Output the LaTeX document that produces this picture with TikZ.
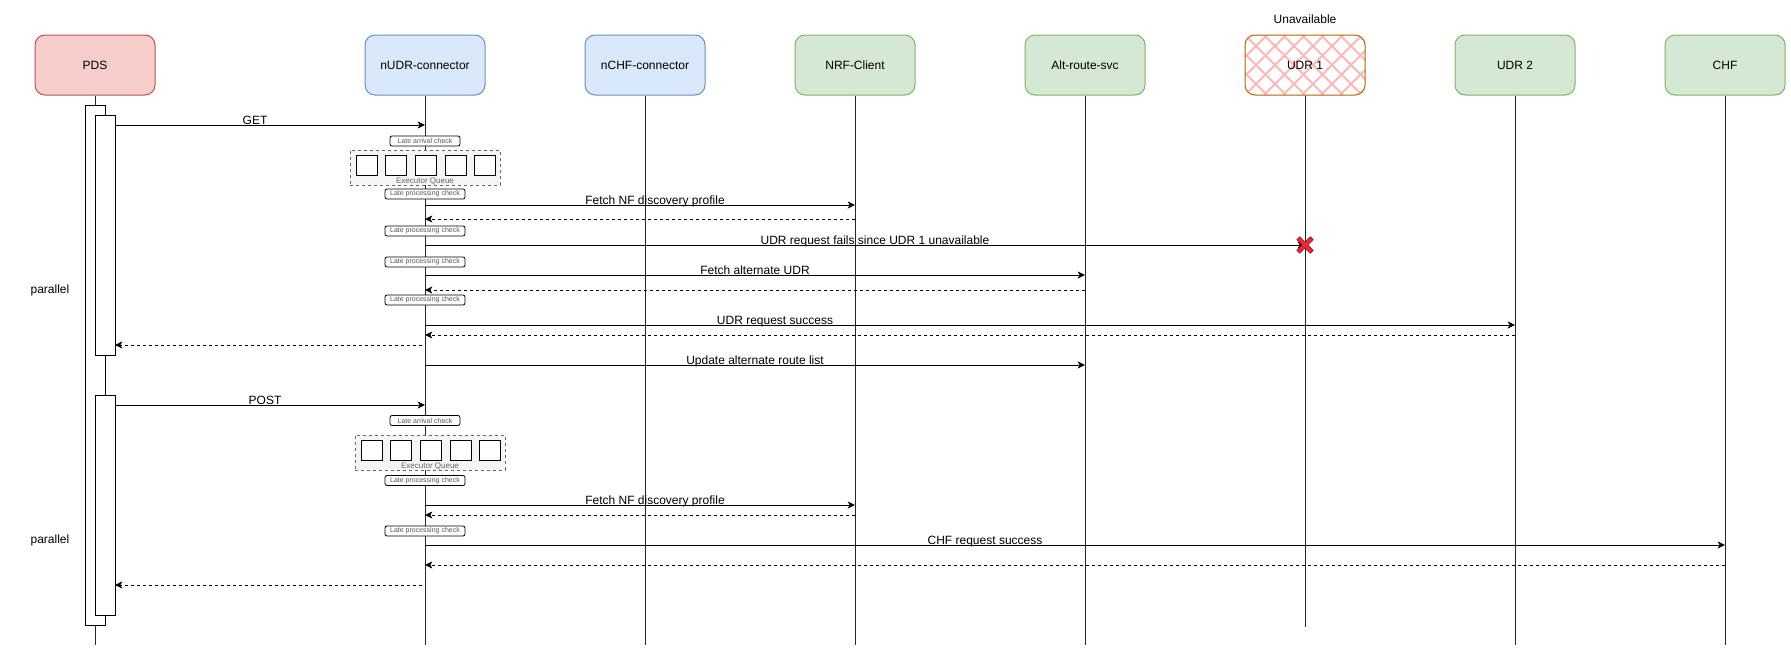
\documentclass[tikz,border=0pt]{standalone}
\usepackage{fontspec}
\setmainfont{Liberation Sans}
\usetikzlibrary{arrows.meta,positioning}

\definecolor{pdsfill}{HTML}{F8CECC}
\definecolor{pdsline}{HTML}{B85450}
\definecolor{bluefill}{HTML}{DAE8FC}
\definecolor{blueline}{HTML}{6C8EBF}
\definecolor{greenfill}{HTML}{D5E8D4}
\definecolor{greenline}{HTML}{82B366}
\definecolor{udrline}{HTML}{B46504}
\definecolor{hatchpink}{HTML}{FFB8B8}
\definecolor{queuefill}{HTML}{F5F5F5}
\definecolor{queueline}{HTML}{666666}
\definecolor{chktext}{HTML}{555555}
\definecolor{failred}{HTML}{E8283C}
\definecolor{faildark}{HTML}{A80F22}

\begin{document}
\begin{tikzpicture}
  [x=0.75pt,y=-0.75pt,every node/.style={font=\fontsize{9pt}{11pt}\selectfont}]

  \tikzset{
  head/.style = {rectangle,rounded corners=7.5pt,minimum width=90pt,minimum height=45pt,line width=0.75pt},
  life/.style = {line width=0.75pt,black!85},
  bar/.style = {rectangle,draw,fill=white,line width=0.75pt,minimum width=15pt,inner sep=0pt,outer sep=0pt},
  msg/.style = {line width=0.75pt,-{Stealth[length=5.5pt,width=5.25pt,inset=1.5pt]}},
  ret/.style = {msg,dash pattern=on 2.25pt off 2.25pt},
  msgl/.style = {anchor=base,inner sep=0pt},
  chk/.style = {rectangle,draw,fill=white,rounded corners=1.5pt,line width=0.6pt,minimum height=7.5pt,inner sep=0pt,text=chktext,font=\fontsize{5.25pt}{6pt}\selectfont},
  queue/.style = {rectangle,draw=queueline,fill=queuefill,dash pattern=on 2.25pt off 2.25pt,line width=0.6pt,minimum width=112.5pt,minimum height=26.25pt},
  queuel/.style = {anchor=base,inner sep=0pt,text=queueline,font=\fontsize{6pt}{7pt}\selectfont},
  slot/.style = {rectangle,draw,fill=white,line width=0.75pt,minimum width=15.75pt,minimum height=15pt,inner sep=0pt},
  hatchline/.style = {hatchpink,line width=1.5pt},
  failx/.style = {line width=3.6pt,faildark},
  failin/.style = {line width=2.6pt,failred}
  }

  \useasboundingbox (0,0) rectangle (1791,653);

  % lifeline heads
  \node[head,fill=pdsfill,draw=pdsline] (pds) at (95,65) {PDS};
  \node[head,fill=bluefill,draw=blueline] (nudr) at (425,65) {nUDR-connector};
  \node[head,fill=bluefill,draw=blueline] (nchf) at (645,65) {nCHF-connector};
  \node[head,fill=greenfill,draw=greenline] (nrf) at (855,65) {NRF-Client};
  \node[head,fill=greenfill,draw=greenline] (alt) at (1085,65) {Alt-route-svc};
  \node[head,fill=white,draw=udrline,path picture={
      \foreach \k in {-4,...,7}{
        \draw[hatchline] ([xshift=\k*14.25pt]path picture bounding box.south west) -- ++(60,-60);
        \draw[hatchline] ([xshift=\k*14.25pt]path picture bounding box.north west) -- ++(60,60);
      }}] (udra) at (1305,65) {UDR 1};
  \node[head,fill=greenfill,draw=greenline] (udrb) at (1515,65) {UDR 2};
  \node[head,fill=greenfill,draw=greenline] (chf) at (1725,65) {CHF};
  \node[above=5pt of udra] (unav) {Unavailable};

  % lifelines
  \foreach \n in {pds,nudr,nchf,nrf,alt,udrb,chf}
    \draw[life] (\n.south) -- (\n.south |- 0,645);
  \draw[life] (udra.south) -- (udra.south |- 0,627);

  % activations on PDS
  \node[bar,minimum height=390pt] (act) at (95,365) {};
  \node[bar,minimum height=180pt] (bar1) at (105,235) {};
  \node[bar,minimum height=165pt] (bar2) at (105,505) {};

  \node (par1) at (50,290) {parallel};
  \node (par2) at (50,540) {parallel};

  % checks and executor queues on nUDR-connector
  \node[chk,minimum width=52.5pt] (lac1) at (425,141) {Late arrival check};
  \node[chk,minimum width=52.5pt] (lac2) at (425,420.5) {Late arrival check};
  \foreach \n/\y in {1/194,2/231,3/262,4/300,5/480.5,6/531}
    \node[chk,minimum width=60pt] (lpc\n) at (425,\y) {Late processing check};

  \foreach \g/\x/\y in {1/425/167.5,2/430/452.5}{
    \node[queue] (exq\g) at (\x,\y) {};
    \node[queuel] (exql\g) at ([yshift=1.5pt]exq\g.south) {Executor Queue};
    \foreach \dx [count=\k] in {-58,-29,1,31,60}
      \node[slot] (q\g\k) at ([xshift=\dx*0.75pt,yshift=1.875pt]exq\g.center) {};
  }

  % messages
  \foreach \a/\b/\y/\lx/\txt [count=\i] in {
      bar1.east/nudr/125/255/GET,
      nudr/nrf/205/655/Fetch NF discovery profile,
      nudr/udra/245/875/UDR request fails since UDR 1 unavailable,
      nudr/alt/275/755/Fetch alternate UDR,
      nudr/udrb/325/775/UDR request success,
      nudr/alt/365/755/Update alternate route list,
      bar2.east/nudr/405/265/POST,
      nudr/nrf/505/655/Fetch NF discovery profile,
      nudr/chf/545/985/CHF request success}
  {
    \draw[msg] (\a |- 0,\y) -- (\b |- 0,\y);
    \node[msgl] (m\i) at (\lx,\y-1) {\txt};
  }

  % replies
  \foreach \a/\b/\y in {nrf/nudr/219,alt/nudr/290,udrb/nudr/335,nrf/nudr/515,chf/nudr/565}
    \draw[ret] (\a |- 0,\y) -- (\b |- 0,\y);
  \draw[ret,shorten <=2.25pt] (nudr |- 0,345) -- (bar1.east |- 0,345);
  \draw[ret,shorten <=2.25pt] (nudr |- 0,585) -- (bar2.east |- 0,585);

  % UDR 1 unreachable
  \coordinate (fail) at (udra |- 0,245);
  \draw[failx] (fail) +(-7,-7) -- +(7,7) (fail) +(-7,7) -- +(7,-7);
  \draw[failin] (fail) +(-6.3,-6.3) -- +(6.3,6.3) (fail) +(-6.3,6.3) -- +(6.3,-6.3);

\end{tikzpicture}
\end{document}
